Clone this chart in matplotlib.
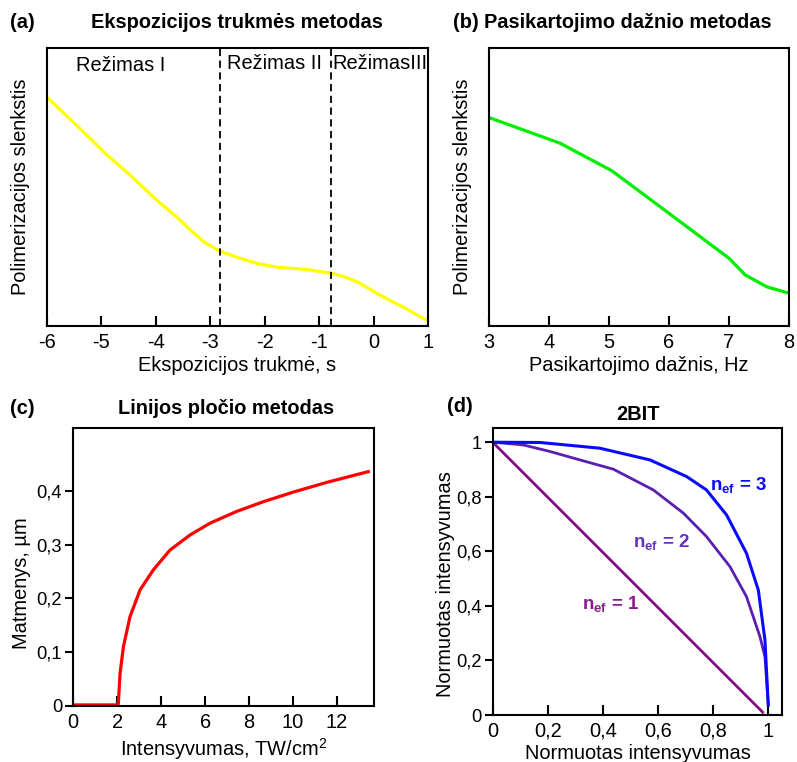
import matplotlib
matplotlib.use("Agg")
import matplotlib.pyplot as plt

plt.rcParams['font.family'] = ['Liberation Sans', 'DejaVu Sans']
plt.rcParams['mathtext.fontset'] = 'custom'
plt.rcParams['mathtext.rm'] = 'Liberation Sans'
plt.rcParams['mathtext.bf'] = 'Liberation Sans:bold'
plt.rcParams['mathtext.it'] = 'Liberation Sans:italic'

# ---- data (a) ----
a_x = [-5.99, -5.42, -4.93, -4.44, -4.02, -3.59, -3.34, -3.10, -2.84, -2.49, -2.12, -1.75,
       -1.26, -0.78, -0.53, -0.28, 0.09, 0.58, 1.0]
a_y = [0.821, 0.715, 0.621, 0.537, 0.459, 0.387, 0.341, 0.300, 0.271, 0.246, 0.224, 0.211,
       0.204, 0.190, 0.177, 0.157, 0.114, 0.064, 0.018]
a_xticks = [-6, -5, -4, -3, -2, -1, 0, 1]
a_regime_bounds = [-2.82, -0.78]
a_regime_labels = ['Režimas I', 'Režimas II', 'RežimasIII']

# ---- data (b) ----
b_x = [3.0, 4.19, 5.05, 6.0, 7.0, 7.27, 7.63, 8.0]
b_y = [0.750, 0.657, 0.558, 0.405, 0.243, 0.183, 0.140, 0.117]
b_xticks = [3, 4, 5, 6, 7, 8]

# ---- data (c) ----
c_x = [0.0, 2.0, 2.05, 2.13, 2.28, 2.58, 3.04, 3.64, 4.40, 5.31, 6.22, 7.44, 8.65, 10.02,
       11.54, 13.43]
c_y = [0.002, 0.002, 0.004, 0.061, 0.110, 0.166, 0.216, 0.253, 0.290, 0.318, 0.340, 0.362,
       0.380, 0.398, 0.416, 0.436]
c_xticks = [0, 2, 4, 6, 8, 10, 12]
c_yticks = [0, 0.1, 0.2, 0.3, 0.4]
c_yticklabels = ['0', '0,1', '0,2', '0,3', '0,4']

# ---- data (d) ----
d1_x = [0.0, 0.98]
d1_y = [1.0, 0.01]
d2_x = [0.0, 0.111, 0.208, 0.317, 0.438, 0.583, 0.692, 0.776, 0.861, 0.921, 0.970, 0.988, 1.0]
d2_y = [1.0, 0.990, 0.966, 0.935, 0.901, 0.825, 0.740, 0.654, 0.544, 0.434, 0.287, 0.214, 0.037]
d3_x = [0.0, 0.172, 0.389, 0.571, 0.704, 0.776, 0.849, 0.921, 0.964, 0.988, 1.0]
d3_y = [1.0, 0.999, 0.978, 0.935, 0.874, 0.825, 0.733, 0.593, 0.458, 0.275, 0.037]
d_ticks = [0, 0.2, 0.4, 0.6, 0.8, 1.0]
d_ticklabels = ['0', '0,2', '0,4', '0,6', '0,8', '1']

FS = 14.4
YFS = 13.2
W, H = 797, 762
fig = plt.figure(figsize=(W / 100, H / 100), dpi=100)


def box(l, t, r, b):
    return [l / W, 1 - b / H, (r - l) / W, (b - t) / H]


def style(ax):
    for s in ax.spines.values():
        s.set_linewidth(1.5)
    ax.tick_params(axis='x', direction='in', length=7, width=1.5, labelsize=FS, pad=5)
    ax.tick_params(axis='y', direction='out', length=6, width=1.5, labelsize=YFS, pad=2)


# (a)
ax = fig.add_axes(box(47, 48, 428, 326))
ax.plot(a_x, a_y, color='#ffff00', lw=2.3, solid_joinstyle='round')
for xb in a_regime_bounds:
    ax.axvline(xb, color='black', ls=(0, (4, 2.5)), lw=1.3)
ax.set_xlim(-6, 1)
ax.set_ylim(0, 1)
ax.set_xticks(a_xticks)
ax.set_xticklabels([str(v) for v in a_xticks])
ax.set_yticks([])
style(ax)
ax.text(-4.64, 0.937, a_regime_labels[0], fontsize=FS, ha='center', va='center')
ax.text(-1.82, 0.944, a_regime_labels[1], fontsize=FS, ha='center', va='center')
ax.text(0.12, 0.944, a_regime_labels[2], fontsize=FS, ha='center', va='center')
ax.set_xlabel('Ekspozicijos trukmė, s', fontsize=FS, labelpad=3)
ax.set_ylabel('Polimerizacijos slenkstis', fontsize=FS, labelpad=12)
fig.text(10 / W, 1 - 23 / H, '(a)', fontsize=FS, fontweight='bold', va='center')
fig.text(237 / W, 1 - 23 / H, 'Ekspozicijos trukmės metodas', fontsize=FS, fontweight='bold',
         ha='center', va='center')

# (b)
ax = fig.add_axes(box(488.7, 48, 789, 325.7))
ax.plot(b_x, b_y, color='#00ee00', lw=2.3, solid_joinstyle='round')
ax.set_xlim(3, 8)
ax.set_ylim(0, 1)
ax.set_xticks(b_xticks)
ax.set_xticklabels([str(v) for v in b_xticks])
ax.set_yticks([])
style(ax)
ax.set_xlabel('Pasikartojimo dažnis, Hz', fontsize=FS, labelpad=3)
ax.set_ylabel('Polimerizacijos slenkstis', fontsize=FS, labelpad=12)
fig.text(453 / W, 1 - 23 / H, '(b)', fontsize=FS, fontweight='bold', va='center')
fig.text(628 / W, 1 - 23 / H, 'Pasikartojimo dažnio metodas', fontsize=FS, fontweight='bold',
         ha='center', va='center')

# (c)
ax = fig.add_axes(box(73.3, 428.3, 374, 706))
ax.plot(c_x, c_y, color='#ff0000', lw=2.3, solid_joinstyle='round')
ax.set_xlim(0, 13.69)
ax.set_ylim(0, 0.5166)
ax.set_xticks(c_xticks)
ax.set_xticklabels([str(v) for v in c_xticks])
ax.set_yticks(c_yticks)
ax.set_yticklabels(c_yticklabels)
style(ax)
ax.set_xlabel('Intensyvumas, TW/cm$^{2}$', fontsize=FS, labelpad=3)
ax.set_ylabel('Matmenys, µm', fontsize=FS)
ax.yaxis.set_label_coords(-0.14, 0.443)
fig.text(10 / W, 1 - 409 / H, '(c)', fontsize=FS, fontweight='bold', va='center')
fig.text(226 / W, 1 - 409 / H, 'Linijos pločio metodas', fontsize=FS, fontweight='bold',
         ha='center', va='center')

# (d)
ax = fig.add_axes(box(492.7, 428.3, 782.3, 715))
ax.plot(d1_x, d1_y, color='#830f80', lw=2.0)
ax.plot(d2_x, d2_y, color='#5a1fb0', lw=2.0, solid_joinstyle='round')
ax.plot(d3_x, d3_y, color='#0a0aff', lw=2.2, solid_joinstyle='round')
ax.set_xlim(0, 1.051)
ax.set_ylim(0, 1.051)
ax.set_xticks(d_ticks)
ax.set_xticklabels(d_ticklabels)
ax.set_yticks(d_ticks)
ax.set_yticklabels(d_ticklabels)
style(ax)
LFS = 13.5
ax.text(0.788, 0.843, r'$\mathbf{n_{ef}}$ = 3', color='#0a0aff', fontsize=LFS, fontweight='bold',
        ha='left', va='center')
ax.text(0.51, 0.636, r'$\mathbf{n_{ef}}$ = 2', color='#6333c0', fontsize=LFS, fontweight='bold',
        ha='left', va='center')
ax.text(0.323, 0.407, r'$\mathbf{n_{ef}}$ = 1', color='#8b1a8b', fontsize=LFS, fontweight='bold',
        ha='left', va='center')
ax.set_xlabel('Normuotas intensyvumas', fontsize=FS, labelpad=2)
ax.set_ylabel('Normuotas intensyvumas', fontsize=FS)
ax.yaxis.set_label_coords(-0.13, 0.455)
fig.text(447 / W, 1 - 407 / H, '(d)', fontsize=FS, fontweight='bold', va='center')
fig.text(638 / W, 1 - 414 / H, '2BIT', fontsize=FS, fontweight='bold', ha='center', va='center')

fig.savefig('out.png', dpi=100)
